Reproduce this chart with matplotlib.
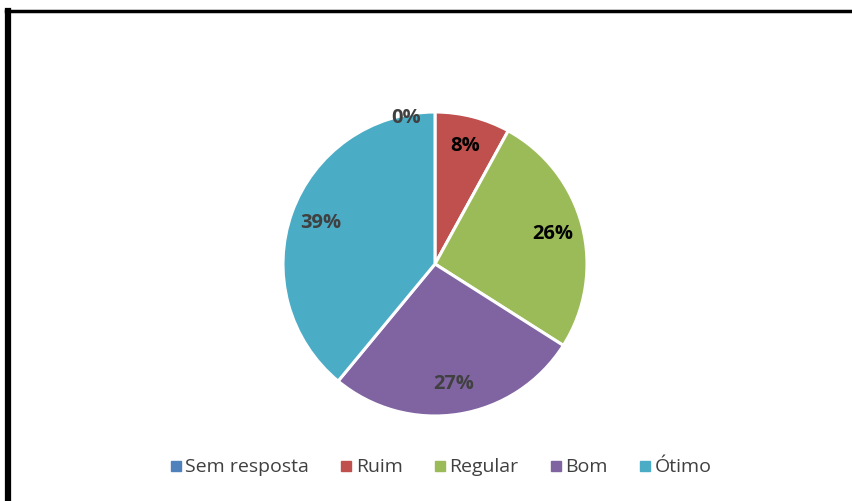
import matplotlib.pyplot as plt
from matplotlib.lines import Line2D

categories = ["Sem resposta", "Ruim", "Regular", "Bom", "Ótimo"]
values = [0, 8, 26, 27, 39]
colors = ["#4F81BD", "#C0504D", "#9BBB59", "#8064A2", "#4BACC6"]
label_colors = ["#404040", "#000000", "#000000", "#404040", "#404040"]

plt.rcParams['font.family'] = ['Open Sans', 'DejaVu Sans']

W, H = 852, 501
cx, cy, r = 435, 264, 152

fig = plt.figure(figsize=(W / 100, H / 100), dpi=100)
ax = fig.add_axes([(cx - r) / W, (H - cy - r) / H, 2 * r / W, 2 * r / H])

wedges, texts, autotexts = ax.pie(
    values, colors=colors, startangle=90, counterclock=False,
    autopct='%1.0f%%', pctdistance=0.8,
    wedgeprops=dict(edgecolor='white', linewidth=2.2),
    textprops=dict(fontsize=14.5, fontweight='bold'))
ax.set_xlim(-1, 1)
ax.set_ylim(-1, 1)
ax.axis('off')

for t, c in zip(autotexts, label_colors):
    t.set_color(c)
# the 0% label sits near the rim, a bit left of 12 o'clock
autotexts[0].set_position((-0.19, 0.96))

handles = [Line2D([], [], marker='s', linestyle='none', markersize=6.5,
                  markerfacecolor=c, markeredgecolor=c) for c in colors]
fig.legend(handles, categories, loc='center', bbox_to_anchor=(0.516, 0.067),
           ncol=5, frameon=False, fontsize=14, handletextpad=0.1,
           columnspacing=1.5, handlelength=0.8, labelcolor='#404040')

# frame remnants on left and top
fig.add_artist(Line2D([0.0095, 0.0095], [0.0, 0.978], color='black', lw=4.5,
                      transform=fig.transFigure))
fig.add_artist(Line2D([0.007, 1.0], [0.978, 0.978], color='black', lw=2.5,
                      transform=fig.transFigure))

fig.savefig('out.png', dpi=100)
